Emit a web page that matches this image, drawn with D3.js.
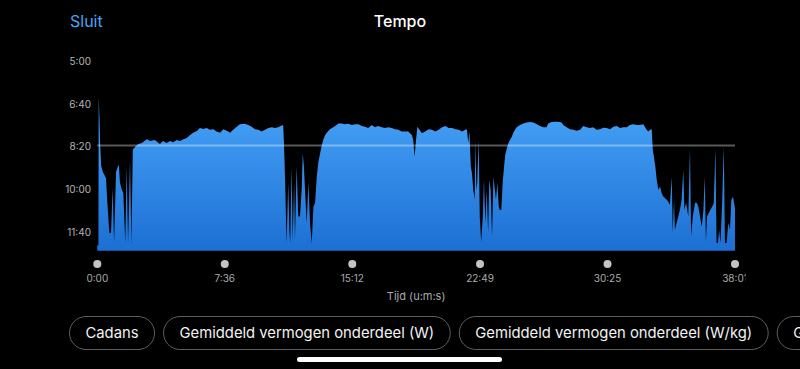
<!DOCTYPE html>
<html>
<head>
<meta charset="utf-8">
<script src="https://cdn.jsdelivr.net/npm/d3@7/dist/d3.min.js"></script>
<style>
  html, body { margin: 0; padding: 0; background: #000; }
  svg { display: block; font-family: Inter, "Noto Sans", sans-serif; }
</style>
</head>
<body>
<div id="chart"></div>
<script>
// time in seconds since start
const timeSec = [
  0, 4, 5, 8, 10, 14, 20, 31, 36, 43, 49, 55, 60, 67, 72, 77, 81, 88, 93, 100,
  105, 110, 117, 122, 127, 131, 138, 147, 159, 177, 189, 206, 224, 235, 248, 260, 271, 284, 296, 308,
  320, 332, 343, 356, 367, 379, 391, 403, 415, 427, 439, 451, 463, 475, 486, 499, 510, 528, 540, 552,
  564, 576, 588, 600, 612, 624, 636, 647, 663, 665,
  668, 672, 677, 683, 687, 690, 695, 699, 704, 707, 713, 719, 725, 731, 735, 739, 743, 749, 755, 761,
  767, 773, 779, 785, 791, 797, 803, 808, 815, 821, 832, 844, 856, 862, 874, 886, 898, 910, 922, 934,
  946, 958, 969, 982, 993, 1005, 1017, 1029, 1041, 1053, 1065, 1077, 1089, 1101, 1112, 1125, 1130, 1135, 1140, 1145,
  1151, 1161, 1173, 1185, 1197, 1209, 1221, 1233, 1245, 1257, 1269, 1281, 1293, 1305, 1316, 1322,
  1327, 1331, 1336, 1340, 1345, 1350, 1352, 1356, 1359, 1364, 1368, 1373, 1379, 1383, 1388, 1393, 1398, 1402, 1407, 1412,
  1417, 1422, 1426, 1431, 1436, 1440, 1445, 1450, 1455, 1459, 1465, 1470, 1476, 1483, 1488, 1494, 1500, 1512, 1524, 1536,
  1548, 1560, 1572, 1584, 1595, 1607, 1613, 1625, 1637, 1649, 1661, 1667, 1679, 1691, 1703, 1715, 1727, 1738, 1751, 1762,
  1774, 1786, 1798, 1810, 1822, 1834, 1846, 1858, 1870, 1881, 1894, 1905, 1917, 1929, 1941, 1953, 1965, 1971, 1977, 1983,
  1987, 1991, 1996, 2001, 2007, 2013, 2019, 2025, 2031, 2037, 2042, 2048, 2055, 2058, 2063, 2066, 2072, 2078, 2084, 2090,
  2096, 2100, 2106, 2114, 2120, 2124, 2130, 2138, 2144, 2150, 2156, 2162, 2168, 2173, 2177, 2181, 2187, 2193, 2199, 2205,
  2211, 2215, 2220, 2224, 2229, 2235, 2241, 2245, 2251, 2257, 2263, 2268, 2274, 2278, 2281
];

// pace in seconds per km
const paceSec = [
  731, 731, 384, 438, 492, 546, 560, 574, 632, 702, 702, 597, 726, 560, 550, 543, 585, 602, 609, 726,
  547, 726, 532, 726, 508, 504, 499, 494, 492, 483, 487, 485, 494, 487, 492, 487, 490, 485, 487, 483,
  480, 473, 468, 464, 457, 459, 457, 461, 460, 465, 468, 460, 463, 468, 461, 454, 448, 447, 450, 454,
  460, 461, 465, 461, 457, 455, 457, 455, 450, 452,
  497, 585, 726, 585, 695, 726, 547, 719, 585, 719, 547, 664, 664, 602, 516, 547, 602, 679, 585, 679,
  726, 641, 632, 571, 536, 516, 497, 485, 473, 468, 460, 455, 450, 446, 446, 448, 447, 450, 448, 448,
  452, 454, 457, 450, 455, 452, 455, 457, 455, 457, 460, 461, 465, 465, 465, 473, 485, 524, 485, 454,
  460, 469, 465, 460, 461, 465, 461, 455, 452, 457, 457, 460, 461, 465, 461, 460,
  492, 465, 547, 562, 602, 625, 485, 602, 585, 485, 664, 723, 664, 578, 679, 602, 702, 578, 602, 711,
  571, 602, 625, 585, 641, 649, 649, 585, 547, 520, 504, 493, 485, 477, 468, 461, 455, 450, 446, 444,
  443, 444, 448, 452, 455, 455, 446, 443, 442, 442, 444, 450, 455, 460, 461, 463, 461, 452, 455, 457,
  455, 461, 460, 456, 457, 460, 454, 452, 457, 455, 455, 450, 448, 450, 450, 448, 461, 465, 461, 460,
  508, 524, 547, 578, 602, 594, 610, 618, 621, 625, 629, 637, 571, 702, 625, 695, 679, 664, 649, 625,
  555, 649, 632, 664, 504, 711, 664, 632, 632, 641, 664, 688, 649, 571, 723, 664, 656, 649, 641, 633,
  504, 726, 726, 695, 726, 633, 500, 726, 726, 679, 695, 625, 618, 633, 645
];

const yTicks = [300, 400, 500, 600, 700];
const xTicks = [0, 456, 912, 1369, 1825, 2281];
const xTickLabels = ["0:00", "7:36", "15:12", "22:49", "30:25", "38:01"];
const avgPace = 498;
const chips = ["Cadans", "Gemiddeld vermogen onderdeel (W)", "Gemiddeld vermogen onderdeel (W/kg)", "Gemiddelde hartslag"];

const width = 800, height = 369;

const svg = d3.select("#chart").append("svg")
    .attr("width", width)
    .attr("height", height);

svg.append("rect").attr("width", width).attr("height", height).attr("fill", "#000");

const x = d3.scaleLinear().domain([0, 2281]).range([97.3, 735]);
const y = d3.scaleLinear().domain([300, 744]).range([61, 250.7]).clamp(true);

const fmt = s => Math.floor(s / 60) + ":" + String(Math.round(s % 60)).padStart(2, "0");

// header
svg.append("text")
    .attr("x", 70).attr("y", 21)
    .attr("dominant-baseline", "central")
    .attr("font-size", 16)
    .attr("fill", "#4ba3f4")
    .text("Sluit");

svg.append("text")
    .attr("x", 400).attr("y", 21)
    .attr("text-anchor", "middle")
    .attr("dominant-baseline", "central")
    .attr("font-size", 16)
    .attr("font-weight", 500)
    .attr("fill", "#fff")
    .text("Tempo");

// gradient for area
const defs = svg.append("defs");
const grad = defs.append("linearGradient")
    .attr("id", "paceFill")
    .attr("gradientUnits", "userSpaceOnUse")
    .attr("x1", 0).attr("x2", 0)
    .attr("y1", 110).attr("y2", 251);
grad.append("stop").attr("offset", 0).attr("stop-color", "#45a1f6");
grad.append("stop").attr("offset", 1).attr("stop-color", "#1c6fd3");

defs.append("clipPath").attr("id", "labelClip")
    .append("rect").attr("x", 0).attr("y", 0).attr("width", 746).attr("height", height);

// y axis labels
svg.append("g")
    .selectAll("text")
    .data(yTicks)
    .enter().append("text")
    .attr("x", 91)
    .attr("y", d => y(d))
    .attr("text-anchor", "end")
    .attr("dominant-baseline", "central")
    .attr("font-size", 10)
    .attr("fill", "#b4b4b4")
    .text(d => fmt(d));

// pace area
const points = timeSec.map((t, i) => [t, paceSec[i]]);
const area = d3.area()
    .x(d => x(d[0]))
    .y0(y(744))
    .y1(d => y(d[1]));

svg.append("path")
    .datum(points)
    .attr("d", area)
    .attr("fill", "url(#paceFill)");

// average line
svg.append("line")
    .attr("x1", x(0)).attr("x2", x(2281))
    .attr("y1", y(avgPace)).attr("y2", y(avgPace))
    .attr("stroke", "#fff")
    .attr("stroke-opacity", 0.35)
    .attr("stroke-width", 2);

// x axis: dots + labels
const xg = svg.append("g").attr("clip-path", "url(#labelClip)");
xg.selectAll("circle")
    .data(xTicks)
    .enter().append("circle")
    .attr("cx", d => x(d))
    .attr("cy", 264)
    .attr("r", 4)
    .attr("fill", "#c4c4c4");

xg.selectAll("text")
    .data(xTicks)
    .enter().append("text")
    .attr("x", d => x(d))
    .attr("y", 278)
    .attr("text-anchor", "middle")
    .attr("dominant-baseline", "central")
    .attr("font-size", 10)
    .attr("fill", "#aaa")
    .text((d, i) => xTickLabels[i]);

svg.append("text")
    .attr("x", (x(0) + x(2281)) / 2)
    .attr("y", 296)
    .attr("text-anchor", "middle")
    .attr("dominant-baseline", "central")
    .attr("font-size", 11)
    .attr("fill", "#aaa")
    .text("Tijd (u:m:s)");

// metric chips (the last one runs off the right edge, as in the app)
let cx = 69.5;
chips.forEach(label => {
    const g = svg.append("g");
    const rect = g.append("rect")
        .attr("y", 316.5)
        .attr("height", 33)
        .attr("rx", 16.5)
        .attr("fill", "none")
        .attr("stroke", "#5e5e5e")
        .attr("stroke-width", 1);
    const t = g.append("text")
        .attr("y", 333)
        .attr("dominant-baseline", "central")
        .attr("font-size", 14.8)
        .attr("fill", "#f2f2f2")
        .text(label);
    const w = t.node().getComputedTextLength();
    t.attr("x", cx + 16);
    rect.attr("x", cx).attr("width", w + 32);
    cx += w + 32 + 9;
});

// home indicator
svg.append("rect")
    .attr("x", 297).attr("y", 357)
    .attr("width", 205).attr("height", 5)
    .attr("rx", 2.5)
    .attr("fill", "#fff");
</script>
</body>
</html>
